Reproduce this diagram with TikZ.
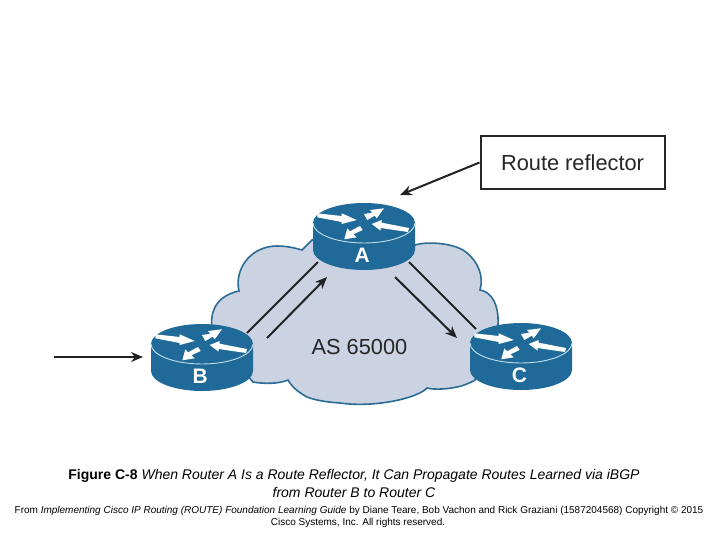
\documentclass[tikz,border=0pt]{standalone}
\usepackage{fontspec}
\setmainfont{Liberation Sans}
\usetikzlibrary{arrows.meta}
\definecolor{routerblue}{RGB}{31,106,152}
\definecolor{routerrim}{RGB}{190,220,236}
\definecolor{cloudfill}{RGB}{203,211,227}
\definecolor{cloudedge}{RGB}{42,108,150}
\definecolor{linedark}{RGB}{34,34,34}
\tikzset{
	flow/.style={color=linedark,line width=1.5pt},
	flowtip/.style={flow,-{Stealth[length=9pt,width=7.5pt]}},
	labeltext/.style={inner sep=0.75pt,font=\fontsize{16.35}{18}\selectfont,color=black!85},
	captionline/.style={inner sep=0.75pt,font=\fontsize{10.5}{12}\selectfont},
	sourceline/.style={inner sep=0.75pt,font=\fontsize{7.5}{9}\selectfont},
	pics/router/.style={code={
		\begin{scope}[yscale=-1]
		%Shape: Body
		\draw [fill=routerblue,draw=none] (-51,0) -- (-51,27) .. controls (-51,38) and (-28,47) .. (0,47) .. controls (28,47) and (51,38) .. (51,27) -- (51,0) -- cycle ;
		%Shape: Top
		\fill [routerblue] (0,0) ellipse (51 and 20) ;
		\draw [routerrim,line width=0.7pt] (-51,0) .. controls (-51,11) and (-28,20) .. (0,20) .. controls (28,20) and (51,11) .. (51,0) ;
		%Shape: Flow arrows
		\fill [white] (-46.7,-9.7) -- (-22.3,-7) -- (-22.3,-9.7) -- (-7.3,-3) -- (-22.3,1) -- (-22.3,-1) -- (-46.7,-5.7) -- cycle ;
		\fill [white] (0,-9) -- (8.3,-10.3) -- (6,-13) -- (20,-14.7) -- (12.7,-4.7) -- (10.7,-7.3) -- (3.3,-3) -- cycle ;
		\fill [white] (-4,3) -- (-14,8.3) -- (-16.7,5.3) -- (-19.7,16.3) -- (-7.3,14.3) -- (-10.7,11.3) -- (-1.3,7) -- cycle ;
		\fill [white] (45,5) -- (17.7,-0.3) -- (17.7,-3) -- (7.7,1) -- (16.7,7.7) -- (16.7,5) -- (44,9) -- cycle ;
		% Text Node
		\draw (-1.7,32.7) node (-name) [inner sep=0.75pt,text=white,font=\fontsize{15.7}{17}\selectfont\bfseries] {#1};
		\coordinate (-ne) at (45,-11);
		\coordinate (-se) at (45,39);
		\coordinate (-sw) at (-46,39);
		\coordinate (-nw) at (-45,-14);
		\coordinate (-left) at (-59,13);
		\end{scope}
	}}
}

\begin{document}
\begin{tikzpicture}[x=0.75pt,y=0.75pt,yscale=-1,xscale=1]
	\useasboundingbox (0,0) rectangle (720,540);
	
	%Shape: Cloud [id:cloud]
	\draw [fill=cloudfill,draw=cloudedge,line width=1.2pt] (213,335) .. controls (208,312) and (216,296) .. (239,291) .. controls (234,270) and (250,246) .. (277,246) .. controls (287,246) and (295,248) .. (302,250) -- (312,240) -- (415,245) .. controls (428,241) and (456,243) .. (467,253) .. controls (478,262) and (484,276) .. (480,290) .. controls (492,292) and (499,305) .. (498,325) -- (475,380) .. controls (468,384) and (462,386) .. (457,387) .. controls (448,389) and (435,390) .. (427,388) .. controls (418,398) and (375,408) .. (340,403) .. controls (325,402) and (315,400) .. (307,397) .. controls (298,392) and (292,387) .. (288,380) .. controls (278,384) and (265,384) .. (253,382) -- cycle ;
	
	%Routers
	\draw (364,223) pic (a) {router=A};
	\draw (202,344) pic (b) {router=B};
	\draw (521,343) pic (c) {router=C};
	
	%Free ends of the arrows
	\coordinate (bin) at (54,357);
	\coordinate (upfrom) at (267,338);
	\coordinate (upto) at (327,277);
	\coordinate (downfrom) at (395,277);
	\coordinate (downto) at (457,338);
	\coordinate (rrtip) at (400,195);
	
	% Text Node
	\draw (572.5,162.5) node (rr) [draw=black!85,line width=1.5pt,minimum width=138pt,minimum height=39.5pt,labeltext] {Route reflector};
	% Text Node
	\draw (359.5,347) node (as) [labeltext] {AS 65000};
	% Text Node
	\draw (354,476) node (cap1) [captionline] {\textbf{Figure C-8} \textit{When Router A Is a Route Reflector, It Can Propagate Routes Learned via iBGP}};
	% Text Node
	\draw (354,492) node (cap2) [captionline] {\textit{from Router B to Router C}};
	% Text Node
	\draw (359,511) node (src1) [sourceline] {From \textit{Implementing Cisco IP Routing (ROUTE) Foundation Learning Guide} by Diane Teare, Bob Vachon and Rick Graziani (1587204568) Copyright © 2015};
	% Text Node
	\draw (358,523) node (src2) [sourceline] {Cisco Systems, Inc. All rights reserved.};
	
	%Straight Lines
	\draw [flowtip] (rr.west) -- (rrtip) ;
	\draw [flowtip] (bin) -- (b-left) ;
	\draw [flow] (b-ne) -- (a-sw) ;
	\draw [flowtip] (upfrom) -- (upto) ;
	\draw [flow] (a-se) -- (c-nw) ;
	\draw [flowtip] (downfrom) -- (downto) ;
	
\end{tikzpicture}
\end{document}
